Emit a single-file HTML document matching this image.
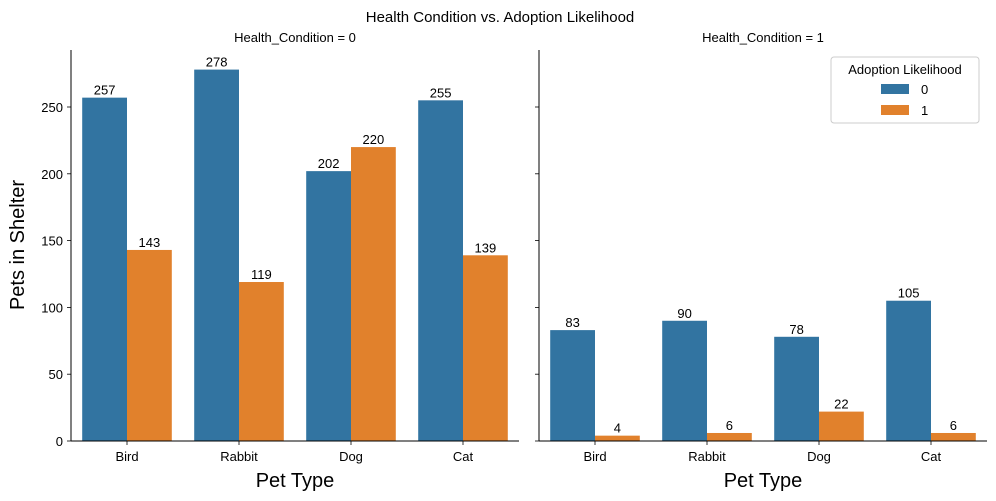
<!DOCTYPE html>
<html><head><meta charset="utf-8"><style>
body{margin:0;background:#fff;}
svg{font-family:"Liberation Sans","DejaVu Sans",sans-serif;display:block}
</style></head><body>
<svg id="chart" width="996" height="501" viewBox="0 0 996 501">
<text x="500" y="22" text-anchor="middle" font-size="15">Health Condition vs. Adoption Likelihood</text>
<text x="295" y="42" text-anchor="middle" font-size="13">Health_Condition = 0</text>
<text x="763" y="42" text-anchor="middle" font-size="13">Health_Condition = 1</text>
<text x="24" y="245" text-anchor="middle" font-size="20" transform="rotate(-90 24 245)">Pets in Shelter</text>
<text x="295" y="487" text-anchor="middle" font-size="20">Pet Type</text>
<text x="763" y="487" text-anchor="middle" font-size="20">Pet Type</text>
<g id="plots"></g>
<g>
<rect x="831" y="57" width="148" height="66" rx="3" fill="#fff" stroke="#ccc"/>
<text x="905" y="74" text-anchor="middle" font-size="13">Adoption Likelihood</text>
<rect x="881" y="84" width="28" height="10" fill="#3274a1"/>
<text x="921" y="94" font-size="13">0</text>
<rect x="881" y="105" width="28" height="10" fill="#e1812c"/>
<text x="921" y="115" font-size="13">1</text>
</g>
</svg>
<script>
const categories = ["Bird","Rabbit","Dog","Cat"];
const health0_adopt0 = [257,278,202,255];
const health0_adopt1 = [143,119,220,139];
const health1_adopt0 = [83,90,78,105];
const health1_adopt1 = [4,6,22,6];
const yTicks = [0,50,100,150,200,250];

const NS="http://www.w3.org/2000/svg";
const g=document.getElementById('plots');
const y0=441, pxPerUnit=(441-107)/250;
function yScale(v){return y0-v*pxPerUnit;}
function mk(tag,attrs,parent){const e=document.createElementNS(NS,tag);for(const k in attrs)e.setAttribute(k,attrs[k]);(parent||g).appendChild(e);return e;}
const colors=["#3274a1","#e1812c"];
const panels=[{x:71,w:448,series:[health0_adopt0,health0_adopt1],labels:true,id:"left"},
              {x:539,w:448,series:[health1_adopt0,health1_adopt1],labels:false,id:"right"}];
panels.forEach(p=>{
  const step=p.w/categories.length, bw=step*0.8/2;
  p.series.forEach((s,si)=>{
    s.forEach((v,ci)=>{
      const bx=p.x+ci*step+step*0.1+si*bw;
      const r=mk('rect',{x:bx,y:yScale(v),width:bw,height:y0-yScale(v),fill:colors[si]});
      
      
      const t=mk('text',{x:bx+bw/2,y:yScale(v)-3,'text-anchor':'middle','font-size':13});
      t.textContent=v;
      
      
    });
  });
  categories.forEach((c,ci)=>{
    const cx=p.x+ci*step+step/2;
    mk('line',{x1:cx,x2:cx,y1:y0,y2:y0+4,stroke:'#000','stroke-width':0.8});
    const t=mk('text',{x:cx,y:y0+20,'text-anchor':'middle','font-size':13});
    t.textContent=c;
    
    
  });
  yTicks.forEach(v=>{
    mk('line',{x1:p.x-4,x2:p.x,y1:yScale(v),y2:yScale(v),stroke:'#000','stroke-width':0.8});
    if(p.labels){
      const t=mk('text',{x:p.x-8,y:yScale(v)+5,'text-anchor':'end','font-size':13});
      t.textContent=v;
      
      
    }
  });
  const ax=mk('line',{x1:p.x,x2:p.x,y1:50,y2:y0,stroke:'#000','stroke-width':1});
  
  
  const bx=mk('line',{x1:p.x,x2:p.x+p.w,y1:y0,y2:y0,stroke:'#000','stroke-width':1});
  
  
});
</script>
</body></html>
